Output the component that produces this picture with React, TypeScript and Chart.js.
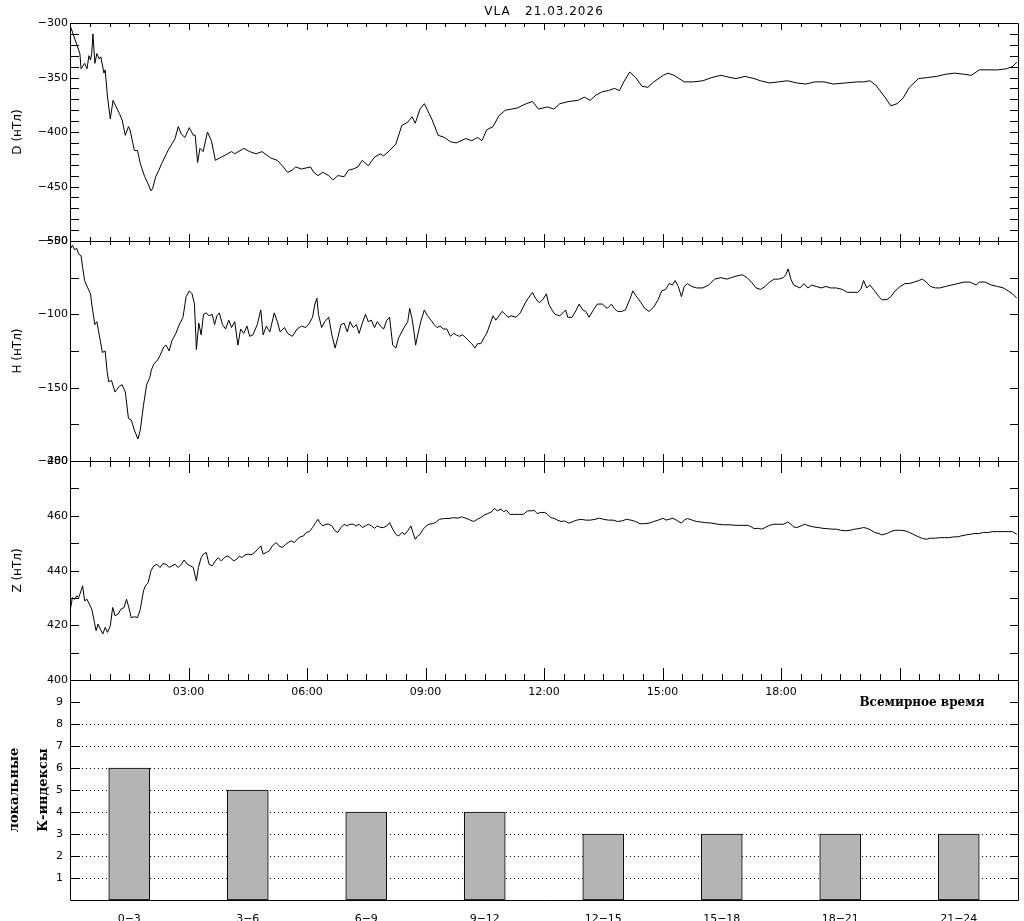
import React, { useEffect, useRef } from "react";
import { Chart, registerables } from "chart.js";

Chart.register(...registerables);

const W = 1024;
const H = 921;
const PLOT_LEFT = 70;
const PLOT_RIGHT = 1018;

const titleText = "VLA   21.03.2026";
const timeTickHours = [3, 6, 9, 12, 15, 18];
const timeTickLabels = ["03:00", "06:00", "09:00", "12:00", "15:00", "18:00"];
const utLabel = "Всемирное время";

const kCategories = ["0−3", "3−6", "6−9", "9−12", "12−15", "15−18", "18−21", "21−24"];
const kValues = [6, 5, 4, 4, 3, 3, 3, 3];
const kTickValues = [1, 2, 3, 4, 5, 6, 7, 8, 9];
const kGridValues = [1, 2, 3, 4, 5, 6, 7, 8];
const kTitleLines = ["локальные", "К-индексы"];

// D component (nT)
const dHours = [
  0.02, 0.25, 0.28, 0.37, 0.43, 0.48, 0.52, 0.55, 0.58, 0.63,
  0.68, 0.74, 0.78, 0.86, 0.89, 0.95, 1.02, 1.09, 1.17, 1.25,
  1.32, 1.40, 1.48, 1.52, 1.63, 1.71, 1.78, 1.89, 1.97, 2.05,
  2.09, 2.17, 2.25, 2.32, 2.40, 2.48, 2.58, 2.66, 2.74, 2.82,
  2.91, 3.02, 3.12, 3.17, 3.23, 3.29, 3.37, 3.48, 3.58, 3.68,
  3.78, 3.94, 4.09, 4.17, 4.40, 4.55, 4.71, 4.86, 5.09, 5.25,
  5.40, 5.51, 5.63, 5.71, 5.86, 6.09, 6.17, 6.28, 6.40, 6.55,
  6.66, 6.78, 6.94, 7.05, 7.17, 7.29, 7.40, 7.55, 7.71, 7.86,
  7.94, 8.09, 8.25, 8.40, 8.55, 8.66, 8.74, 8.86, 8.97, 9.09,
  9.17, 9.32, 9.48, 9.63, 9.78, 10.02, 10.17, 10.32, 10.43, 10.55,
  10.71, 10.86, 11.02, 11.17, 11.32, 11.55, 11.71, 11.86, 12.09, 12.25,
  12.40, 12.63, 12.86, 13.02, 13.17, 13.32, 13.48, 13.63, 13.78, 13.91,
  14.02, 14.17, 14.32, 14.48, 14.63, 14.78, 15.02, 15.14, 15.29, 15.55,
  15.78, 16.02, 16.25, 16.48, 16.71, 16.86, 17.09, 17.32, 17.48, 17.71,
  17.94, 18.17, 18.40, 18.63, 18.86, 19.09, 19.32, 19.63, 19.94, 20.09,
  20.25, 20.40, 20.63, 20.78, 20.94, 21.09, 21.25, 21.48, 21.71, 21.94,
  22.17, 22.40, 22.63, 22.82, 23.02, 23.25, 23.48, 23.71, 23.86, 23.97,
];
const dValues = [
  -304, -328, -342, -337, -342, -330, -334, -328, -310, -337,
  -328, -333, -331, -346, -343, -368, -388, -371, -377, -383,
  -389, -403, -395, -398, -417, -417, -429, -441, -447, -454,
  -452, -441, -435, -429, -423, -417, -411, -406, -395, -402,
  -405, -396, -403, -403, -428, -415, -418, -400, -408, -426,
  -424, -421, -418, -420, -415, -418, -420, -418, -424, -426,
  -432, -437, -435, -432, -434, -432, -437, -440, -437, -440,
  -444, -440, -441, -435, -434, -432, -426, -431, -423, -420,
  -422, -417, -411, -394, -391, -386, -392, -379, -374, -383,
  -389, -403, -405, -409, -410, -406, -408, -405, -408, -398,
  -395, -385, -380, -379, -378, -374, -372, -379, -377, -379,
  -374, -372, -371, -368, -371, -366, -363, -362, -360, -362,
  -354, -345, -350, -358, -359, -354, -348, -346, -348, -354,
  -354, -353, -350, -348, -350, -351, -349, -351, -353, -355,
  -354, -353, -355, -356, -354, -354, -356, -355, -354, -354,
  -353, -357, -368, -376, -374, -369, -359, -351, -350, -349,
  -347, -346, -347, -348, -343, -343, -343, -342, -340, -336,
];

// H component (nT)
const hHours = [
  0.02, 0.06, 0.12, 0.17, 0.22, 0.28, 0.32, 0.37, 0.45, 0.52,
  0.55, 0.63, 0.68, 0.74, 0.82, 0.89, 0.94, 0.98, 1.05, 1.14,
  1.25, 1.32, 1.40, 1.48, 1.55, 1.63, 1.72, 1.78, 1.86, 1.94,
  2.02, 2.06, 2.12, 2.22, 2.28, 2.38, 2.43, 2.51, 2.58, 2.68,
  2.75, 2.86, 2.94, 3.02, 3.09, 3.15, 3.20, 3.26, 3.32, 3.38,
  3.45, 3.52, 3.60, 3.66, 3.72, 3.78, 3.86, 3.94, 4.02, 4.09,
  4.17, 4.25, 4.32, 4.40, 4.48, 4.55, 4.63, 4.74, 4.83, 4.89,
  4.97, 5.06, 5.17, 5.25, 5.32, 5.43, 5.51, 5.63, 5.75, 5.86,
  5.97, 6.06, 6.14, 6.20, 6.25, 6.29, 6.37, 6.45, 6.55, 6.63,
  6.71, 6.78, 6.86, 6.94, 7.02, 7.09, 7.17, 7.25, 7.32, 7.40,
  7.48, 7.55, 7.63, 7.71, 7.78, 7.86, 7.94, 8.02, 8.09, 8.17,
  8.25, 8.32, 8.40, 8.48, 8.55, 8.60, 8.66, 8.71, 8.75, 8.82,
  8.89, 8.97, 9.05, 9.14, 9.22, 9.29, 9.37, 9.45, 9.54, 9.63,
  9.71, 9.78, 9.86, 9.94, 10.02, 10.09, 10.17, 10.25, 10.32, 10.40,
  10.48, 10.55, 10.63, 10.71, 10.78, 10.86, 10.94, 11.02, 11.09, 11.17,
  11.29, 11.40, 11.51, 11.60, 11.71, 11.78, 11.88, 11.97, 12.06, 12.12,
  12.20, 12.28, 12.40, 12.48, 12.55, 12.60, 12.71, 12.82, 12.89, 12.98,
  13.06, 13.14, 13.25, 13.35, 13.48, 13.60, 13.71, 13.78, 13.86, 13.97,
  14.06, 14.17, 14.25, 14.32, 14.43, 14.55, 14.66, 14.78, 14.89, 14.98,
  15.08, 15.17, 15.25, 15.32, 15.40, 15.48, 15.55, 15.63, 15.74, 15.86,
  16.02, 16.17, 16.32, 16.48, 16.63, 16.74, 16.86, 17.02, 17.14, 17.25,
  17.37, 17.48, 17.60, 17.71, 17.83, 17.94, 18.06, 18.12, 18.18, 18.25,
  18.32, 18.48, 18.58, 18.68, 18.78, 18.89, 19.02, 19.14, 19.25, 19.40,
  19.55, 19.68, 19.82, 19.94, 20.02, 20.09, 20.17, 20.25, 20.37, 20.48,
  20.55, 20.68, 20.78, 20.89, 21.02, 21.14, 21.25, 21.37, 21.48, 21.58,
  21.68, 21.78, 21.91, 22.02, 22.17, 22.32, 22.48, 22.63, 22.78, 22.94,
  23.02, 23.17, 23.32, 23.48, 23.63, 23.75, 23.86, 23.97,
];
const hValues = [
  -55, -53, -56, -55, -59, -60, -68, -77, -82, -86,
  -93, -107, -105, -114, -126, -125, -139, -146, -145, -153,
  -149, -148, -153, -171, -172, -179, -185, -179, -162, -148,
  -143, -138, -134, -131, -128, -122, -121, -125, -118, -113,
  -108, -102, -88, -84, -86, -93, -124, -106, -114, -100,
  -99, -101, -100, -107, -101, -99, -107, -110, -104, -109,
  -105, -121, -110, -113, -108, -115, -114, -107, -97, -114,
  -108, -112, -99, -105, -112, -109, -113, -115, -110, -108,
  -109, -106, -102, -93, -89, -100, -109, -105, -102, -114,
  -123, -116, -107, -106, -112, -105, -109, -107, -113, -106,
  -100, -105, -104, -109, -105, -108, -110, -104, -102, -121,
  -123, -116, -112, -108, -105, -96, -103, -112, -121, -112,
  -104, -97, -101, -104, -107, -109, -108, -110, -110, -115,
  -113, -114, -115, -114, -116, -118, -120, -123, -120, -120,
  -116, -113, -107, -101, -104, -101, -98, -100, -102, -101,
  -102, -99, -93, -89, -85, -89, -92, -90, -86, -93,
  -97, -100, -101, -99, -97, -102, -102, -97, -93, -97,
  -98, -102, -97, -93, -93, -96, -93, -96, -98, -98,
  -97, -90, -84, -87, -91, -96, -98, -95, -90, -84,
  -83, -79, -80, -77, -81, -88, -81, -79, -81, -82,
  -82, -80, -76, -75, -76, -75, -74, -73, -75, -78,
  -82, -83, -81, -78, -76, -76, -75, -73, -69, -76,
  -80, -82, -79, -82, -80, -81, -82, -81, -82, -82,
  -83, -85, -85, -85, -83, -77, -82, -80, -84, -88,
  -90, -90, -88, -84, -81, -79, -79, -78, -77, -76,
  -78, -81, -82, -82, -81, -80, -79, -78, -78, -80,
  -78, -78, -80, -81, -82, -84, -86, -89,
];

// Z component (nT)
const zHours = [
  0.02, 0.06, 0.12, 0.17, 0.22, 0.28, 0.32, 0.37, 0.43, 0.49,
  0.55, 0.62, 0.66, 0.71, 0.77, 0.83, 0.89, 0.95, 1.02, 1.08,
  1.14, 1.22, 1.29, 1.37, 1.43, 1.48, 1.55, 1.63, 1.71, 1.78,
  1.86, 1.91, 1.98, 2.05, 2.12, 2.20, 2.28, 2.35, 2.43, 2.51,
  2.58, 2.66, 2.74, 2.82, 2.89, 2.97, 3.05, 3.12, 3.20, 3.25,
  3.32, 3.38, 3.45, 3.52, 3.60, 3.68, 3.75, 3.83, 3.91, 3.98,
  4.06, 4.14, 4.22, 4.29, 4.35, 4.43, 4.51, 4.58, 4.68, 4.75,
  4.83, 4.89, 4.97, 5.05, 5.12, 5.22, 5.29, 5.37, 5.45, 5.52,
  5.60, 5.68, 5.75, 5.83, 5.91, 5.98, 6.06, 6.14, 6.22, 6.28,
  6.32, 6.40, 6.48, 6.55, 6.63, 6.71, 6.78, 6.86, 6.94, 7.02,
  7.09, 7.17, 7.25, 7.32, 7.40, 7.48, 7.55, 7.63, 7.71, 7.78,
  7.86, 7.94, 8.02, 8.09, 8.17, 8.25, 8.32, 8.40, 8.48, 8.55,
  8.63, 8.68, 8.74, 8.80, 8.86, 8.94, 9.02, 9.09, 9.17, 9.25,
  9.35, 9.48, 9.60, 9.71, 9.82, 9.91, 10.02, 10.12, 10.22, 10.31,
  10.40, 10.49, 10.58, 10.68, 10.74, 10.82, 10.91, 10.98, 11.05, 11.14,
  11.25, 11.35, 11.48, 11.58, 11.68, 11.75, 11.83, 11.91, 12.02, 12.09,
  12.17, 12.25, 12.34, 12.43, 12.52, 12.63, 12.74, 12.83, 12.94, 13.05,
  13.17, 13.29, 13.40, 13.51, 13.63, 13.75, 13.86, 13.97, 14.09, 14.20,
  14.32, 14.43, 14.55, 14.66, 14.78, 14.89, 15.02, 15.09, 15.17, 15.26,
  15.35, 15.48, 15.55, 15.63, 15.75, 15.86, 15.98, 16.09, 16.25, 16.40,
  16.55, 16.71, 16.86, 17.02, 17.17, 17.25, 17.32, 17.43, 17.51, 17.60,
  17.71, 17.82, 17.94, 18.06, 18.17, 18.25, 18.32, 18.40, 18.51, 18.60,
  18.71, 18.83, 18.94, 19.06, 19.17, 19.29, 19.40, 19.51, 19.63, 19.75,
  19.86, 19.97, 20.09, 20.18, 20.28, 20.37, 20.48, 20.55, 20.68, 20.78,
  20.89, 21.02, 21.14, 21.25, 21.35, 21.48, 21.58, 21.68, 21.78, 21.91,
  22.02, 22.14, 22.25, 22.37, 22.48, 22.55, 22.68, 22.78, 22.89, 23.02,
  23.12, 23.25, 23.35, 23.48, 23.63, 23.75, 23.86, 23.97,
];
const zValues = [
  426.5, 430.1, 429.5, 430.8, 430.1, 432.6, 434.4, 428.9, 429.5, 427.7,
  425.9, 421.0, 418.0, 420.4, 418.6, 416.8, 419.2, 417.4, 419.8, 426.5,
  423.5, 424.1, 425.9, 426.5, 429.5, 427.1, 422.8, 423.1, 422.8, 425.9,
  432.6, 434.4, 435.6, 439.9, 441.7, 442.3, 441.1, 442.5, 442.3, 441.1,
  441.7, 442.3, 441.1, 442.3, 443.8, 442.3, 441.7, 441.1, 436.2, 441.1,
  444.7, 446.0, 446.6, 442.3, 441.7, 443.5, 444.7, 443.5, 444.7, 445.3,
  444.7, 443.5, 444.1, 445.3, 444.7, 445.7, 446.0, 445.7, 446.6, 447.8,
  449.0, 446.0, 446.6, 447.2, 449.0, 450.2, 449.0, 448.4, 449.4, 450.2,
  450.8, 450.2, 451.4, 452.3, 452.6, 453.9, 454.2, 455.7, 457.5, 458.7,
  457.5, 456.3, 456.9, 456.9, 456.3, 454.5, 453.9, 455.7, 456.9, 456.3,
  456.9, 456.9, 456.3, 456.9, 455.7, 456.3, 456.9, 456.3, 455.4, 456.3,
  455.7, 455.7, 456.3, 457.5, 455.1, 453.2, 452.6, 453.9, 453.2, 454.5,
  456.3, 453.9, 451.4, 452.6, 453.2, 455.1, 456.3, 456.9, 457.1, 457.5,
  458.7, 459.0, 459.0, 459.3, 459.1, 459.6, 459.1, 458.5, 457.9, 458.7,
  459.3, 460.3, 460.8, 461.5, 462.7, 461.8, 462.4, 461.5, 462.0, 460.5,
  460.5, 460.5, 460.5, 461.8, 461.8, 462.0, 460.8, 461.2, 461.2, 460.5,
  459.3, 459.1, 458.4, 457.9, 458.1, 457.3, 457.9, 458.4, 458.7, 458.4,
  458.4, 458.7, 459.1, 458.7, 458.4, 458.4, 457.9, 458.1, 458.7, 458.4,
  457.9, 457.1, 457.1, 457.3, 457.9, 458.4, 459.1, 458.4, 458.7, 459.1,
  458.4, 457.3, 458.4, 459.0, 458.4, 457.9, 457.7, 457.5, 457.3, 456.9,
  456.7, 456.7, 456.5, 456.5, 456.5, 455.9, 455.3, 455.4, 455.1, 455.7,
  456.5, 456.9, 456.9, 456.9, 457.7, 456.9, 455.9, 455.7, 456.3, 456.9,
  456.3, 455.9, 455.7, 455.4, 455.3, 455.1, 455.1, 454.7, 454.5, 454.7,
  455.1, 455.3, 455.7, 455.4, 454.7, 453.9, 453.5, 453.0, 453.5, 454.2,
  454.7, 454.7, 454.5, 453.9, 453.2, 452.3, 451.7, 451.4, 451.8, 451.8,
  452.0, 452.0, 452.0, 452.3, 452.3, 452.6, 453.0, 453.2, 453.5, 453.5,
  453.9, 453.9, 454.2, 454.2, 454.2, 454.2, 454.2, 453.2,
];

const TICK_FONT = '11px "DejaVu Sans"';
const AXIS_TITLE_FONT = '12px "DejaVu Sans"';
const SERIF_BOLD = 'bold 12px "DejaVu Serif"';
const SERIF_BOLD_SIDE = 'bold 13px "DejaVu Serif"';

type PanelSpec = {
  top: number;
  bottom: number;
  min: number;
  max: number;
  minorStep: number;
  labelStep: number;
  title: string;
  xMajorLen: number;
  xMinorLen: number;
  timeLabels: boolean;
  header: boolean;
};

const crisp = (v: number) => Math.round(v) + 0.5;
const fmt = (v: number) => (v < 0 ? "\u2212" + Math.abs(v) : String(v));

function rotatedText(ctx: CanvasRenderingContext2D, text: string, x: number, y: number, font: string) {
  ctx.save();
  ctx.translate(x, y);
  ctx.rotate(-Math.PI / 2);
  ctx.font = font;
  ctx.textAlign = "center";
  ctx.textBaseline = "middle";
  ctx.fillText(text, 0, 0);
  ctx.restore();
}

function framePlugin(spec: PanelSpec) {
  return {
    id: "idlFrame",
    afterDraw(chart: any) {
      const { ctx, chartArea } = chart;
      const { left, right, top, bottom } = chartArea;
      const xs = chart.scales.x;
      const ys = chart.scales.y;
      ctx.save();
      ctx.strokeStyle = "#000";
      ctx.fillStyle = "#000";
      ctx.lineWidth = 1;
      ctx.beginPath();
      ctx.rect(crisp(left), crisp(top), Math.round(right) - Math.round(left), Math.round(bottom) - Math.round(top));
      ctx.stroke();

      // x ticks every 30 min, longer at 3 h
      ctx.beginPath();
      for (let k = 1; k < 48; k++) {
        const t = k / 2;
        const px = crisp(xs.getPixelForValue(t));
        const len = k % 6 === 0 ? spec.xMajorLen : spec.xMinorLen;
        ctx.moveTo(px, top);
        ctx.lineTo(px, top + len);
        ctx.moveTo(px, bottom);
        ctx.lineTo(px, bottom - len);
      }
      ctx.stroke();

      // y ticks + labels
      ctx.font = TICK_FONT;
      ctx.textAlign = "right";
      ctx.textBaseline = "middle";
      ctx.beginPath();
      const n = Math.round((spec.max - spec.min) / spec.minorStep);
      for (let i = 0; i <= n; i++) {
        const v = spec.min + i * spec.minorStep;
        const py = crisp(ys.getPixelForValue(v));
        ctx.moveTo(left, py);
        ctx.lineTo(left + 9, py);
        ctx.moveTo(right, py);
        ctx.lineTo(right - 8, py);
        if (Math.abs(v % spec.labelStep) < 1e-9) {
          ctx.fillText(fmt(v), left - 2, py);
        }
      }
      ctx.stroke();

      rotatedText(ctx, spec.title, 18, (top + bottom) / 2, AXIS_TITLE_FONT);

      if (spec.timeLabels) {
        ctx.font = TICK_FONT;
        ctx.textAlign = "center";
        ctx.textBaseline = "middle";
        timeTickHours.forEach((t, i) => {
          ctx.fillText(timeTickLabels[i], xs.getPixelForValue(t), bottom + 12);
        });
      }

      if (spec.header) {
        ctx.font = '12px "DejaVu Sans"';
        (ctx as any).letterSpacing = "1px";
        ctx.textAlign = "center";
        ctx.textBaseline = "middle";
        ctx.fillText(titleText, (left + right) / 2, 12);
        (ctx as any).letterSpacing = "0px";
      }
      ctx.restore();
    },
  };
}

function linePanel(hours: number[], values: number[], spec: PanelSpec): any {
  const count = Math.min(hours.length, values.length);
  const points: { x: number; y: number }[] = [];
  for (let i = 0; i < count; i++) points.push({ x: hours[i], y: values[i] });
  return {
    type: "line",
    data: {
      datasets: [
        {
          data: points,
          borderColor: "#000",
          borderWidth: 1,
          pointRadius: 0,
          fill: false,
          tension: 0,
        },
      ],
    },
    options: {
      animation: false,
      responsive: false,
      devicePixelRatio: 1,
      events: [],
      layout: { padding: { left: PLOT_LEFT, right: W - PLOT_RIGHT, top: spec.top, bottom: H - spec.bottom } },
      scales: {
        x: { type: "linear", min: 0, max: 24, display: false },
        y: { type: "linear", min: spec.min, max: spec.max, display: false },
      },
      plugins: { legend: { display: false }, tooltip: { enabled: false }, title: { display: false } },
    },
    plugins: [framePlugin(spec)],
  };
}

const kPlugin = {
  id: "kFrame",
  beforeDatasetsDraw(chart: any) {
    const { ctx, chartArea } = chart;
    const ys = chart.scales.y;
    ctx.save();
    ctx.strokeStyle = "#000";
    ctx.lineWidth = 1;
    ctx.setLineDash([1, 3]);
    ctx.beginPath();
    kGridValues.forEach((v) => {
      const py = crisp(ys.getPixelForValue(v));
      ctx.moveTo(chartArea.left + 12, py);
      ctx.lineTo(chartArea.right - 9, py);
    });
    ctx.stroke();
    ctx.restore();
  },
  afterDraw(chart: any) {
    const { ctx, chartArea } = chart;
    const { left, right, top, bottom } = chartArea;
    const xs = chart.scales.x;
    const ys = chart.scales.y;
    ctx.save();
    ctx.strokeStyle = "#000";
    ctx.fillStyle = "#000";
    ctx.lineWidth = 1;
    ctx.beginPath();
    ctx.rect(crisp(left), crisp(top), Math.round(right) - Math.round(left), Math.round(bottom) - Math.round(top));
    ctx.stroke();

    ctx.font = TICK_FONT;
    ctx.textAlign = "right";
    ctx.textBaseline = "middle";
    ctx.beginPath();
    kTickValues.forEach((v) => {
      const py = crisp(ys.getPixelForValue(v));
      ctx.moveTo(left, py);
      ctx.lineTo(left + 10, py);
      ctx.moveTo(right, py);
      ctx.lineTo(right - 8, py);
      ctx.fillText(String(v), left - 7, py);
    });
    ctx.stroke();

    ctx.textAlign = "center";
    kCategories.forEach((c, i) => {
      ctx.fillText(c, xs.getPixelForValue(i), bottom + 19);
    });

    ctx.font = SERIF_BOLD;
    ctx.textAlign = "center";
    ctx.fillText(utLabel, 922, top + 23);

    rotatedText(ctx, kTitleLines[0], 15, (top + bottom) / 2, SERIF_BOLD_SIDE);
    rotatedText(ctx, kTitleLines[1], 44, (top + bottom) / 2, SERIF_BOLD_SIDE);
    ctx.restore();
  },
};

function kPanel(): any {
  return {
    type: "bar",
    data: {
      labels: kCategories,
      datasets: [
        {
          data: kValues,
          backgroundColor: "#b4b4b4",
          borderColor: "#000",
          borderWidth: 1,
          borderSkipped: false,
          barThickness: 41,
        },
      ],
    },
    options: {
      animation: false,
      responsive: false,
      devicePixelRatio: 1,
      events: [],
      layout: { padding: { left: PLOT_LEFT, right: W - PLOT_RIGHT, top: 680, bottom: H - 900 } },
      scales: {
        x: { type: "category", display: false, offset: true },
        y: { type: "linear", min: 0, max: 10, display: false },
      },
      plugins: { legend: { display: false }, tooltip: { enabled: false }, title: { display: false } },
    },
    plugins: [kPlugin],
  };
}

const dSpec: PanelSpec = {
  top: 23, bottom: 241, min: -500, max: -300, minorStep: 10, labelStep: 50,
  title: "D (нТл)", xMajorLen: 7, xMinorLen: 4, timeLabels: false, header: true,
};
const hSpec: PanelSpec = {
  top: 241, bottom: 461, min: -200, max: -50, minorStep: 25, labelStep: 50,
  title: "H (нТл)", xMajorLen: 7, xMinorLen: 4, timeLabels: false, header: false,
};
const zSpec: PanelSpec = {
  top: 461, bottom: 680, min: 400, max: 480, minorStep: 10, labelStep: 20,
  title: "Z (нТл)", xMajorLen: 12, xMinorLen: 6, timeLabels: true, header: false,
};

export default function App() {
  const r1 = useRef<HTMLCanvasElement>(null);
  const r2 = useRef<HTMLCanvasElement>(null);
  const r3 = useRef<HTMLCanvasElement>(null);
  const r4 = useRef<HTMLCanvasElement>(null);

  useEffect(() => {
    const charts: Chart[] = [];
    if (r1.current) charts.push(new Chart(r1.current, linePanel(dHours, dValues, dSpec)));
    if (r2.current) charts.push(new Chart(r2.current, linePanel(hHours, hValues, hSpec)));
    if (r3.current) charts.push(new Chart(r3.current, linePanel(zHours, zValues, zSpec)));
    if (r4.current) charts.push(new Chart(r4.current, kPanel()));
    return () => charts.forEach((c) => c.destroy());
  }, []);

  const canvasStyle: React.CSSProperties = { position: "absolute", left: 0, top: 0, width: W, height: H };
  return (
    <div style={{ position: "absolute", left: 0, top: 0, width: W, height: H, background: "#fff", overflow: "hidden" }}>
      <canvas ref={r4} width={W} height={H} style={canvasStyle} />
      <canvas ref={r3} width={W} height={H} style={canvasStyle} />
      <canvas ref={r2} width={W} height={H} style={canvasStyle} />
      <canvas ref={r1} width={W} height={H} style={canvasStyle} />
    </div>
  );
}
